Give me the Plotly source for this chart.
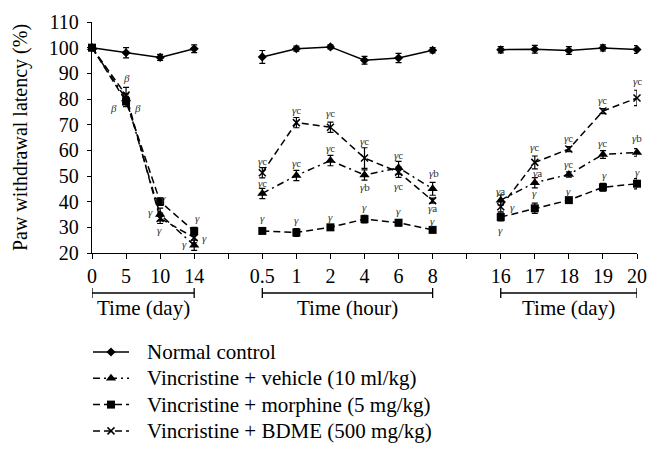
import plotly.graph_objects as go

# ---------------- data ----------------
days_a = ["0", "5", "10", "14"]
hours = ["0.5", "1", "2", "4", "6", "8"]
days_b = ["16", "17", "18", "19", "20"]

normal_a = [100, 98, 96.2, 99.6]
normal_h = [96.4, 99.6, 100.3, 95.1, 96.0, 99.0]
normal_b = [99.2, 99.4, 98.9, 99.9, 99.3]
normal_err_a = [0, 2.0, 1.2, 1.5]
normal_err_h = [2.5, 1.0, 0.8, 1.5, 1.8, 1.0]
normal_err_b = [1.2, 1.5, 1.5, 1.2, 1.5]

vehicle_a = [100, 80, 35, 23]
vehicle_h = [43.2, 50.2, 56.0, 50.4, 53.2, 45.0]
vehicle_b = [40.6, 47.4, 50.6, 58.4, 59.2]
vehicle_err_a = [0, 2.0, 2.5, 2.0]
vehicle_err_h = [2.0, 2.0, 2.0, 2.0, 2.5, 2.5]
vehicle_err_b = [2.0, 2.0, 1.0, 1.5, 1.5]

morphine_a = [100, 79, 40, 28.5]
morphine_h = [28.6, 28.0, 30.0, 33.2, 31.8, 29.0]
morphine_b = [34.0, 37.4, 40.6, 45.6, 47.0]
morphine_err_a = [0, 2.0, 1.5, 1.5]
morphine_err_h = [1.0, 1.5, 1.0, 1.5, 1.2, 0.8]
morphine_err_b = [1.5, 2.0, 1.0, 1.5, 2.0]

bdme_a = [100, 81.5, 33.5, 26]
bdme_h = [51.3, 70.8, 69.0, 57.0, 51.5, 40.4]
bdme_b = [38.0, 55.3, 60.5, 75.3, 80.4]
bdme_err_a = [0, 3.0, 2.0, 2.0]
bdme_err_h = [2.0, 2.0, 2.0, 4.0, 2.0, 1.0]
bdme_err_b = [2.0, 2.5, 1.0, 1.0, 3.0]

series_names = [
    "Normal control",
    "Vincristine + vehicle (10 ml/kg)",
    "Vincristine + morphine (5 mg/kg)",
    "Vincristine + BDME (500 mg/kg)",
]

panel_titles = ["Time (day)", "Time (hour)", "Time (day)"]

# significance marks: (panel index, category label, y value, text, x offset in category units)
marks = [
    (0, "5", 88.0, "<i>β</i>", 0.02), (0, "5", 76.4, "<i>β</i>", -0.38), (0, "5", 76.4, "<i>β</i>", 0.34),
    (0, "10", 41.4, "<i>γ</i>", 0.10), (0, "10", 36.0, "<i>γ</i>", -0.28), (0, "10", 29.0, "<i>γ</i>", -0.02),
    (0, "14", 33.6, "<i>γ</i>", 0.09), (0, "14", 26.0, "<i>γ</i>", 0.29), (0, "14", 23.4, "<i>γ</i>", -0.29),
    (1, "0.5", 56.0, "<i>γ</i>c", 0), (1, "0.5", 47.4, "<i>γ</i>c", 0), (1, "0.5", 33.5, "<i>γ</i>", 0),
    (1, "1", 75.9, "<i>γ</i>c", 0), (1, "1", 55.1, "<i>γ</i>c", 0), (1, "1", 32.8, "<i>γ</i>", 0),
    (1, "2", 74.7, "<i>γ</i>c", 0), (1, "2", 61.0, "<i>γ</i>c", 0), (1, "2", 33.9, "<i>γ</i>", 0),
    (1, "4", 63.6, "<i>γ</i>c", 0), (1, "4", 45.8, "<i>γ</i>b", 0), (1, "4", 38.0, "<i>γ</i>", 0),
    (1, "6", 58.0, "<i>γ</i>c", 0), (1, "6", 46.3, "<i>γ</i>c", 0), (1, "6", 36.5, "<i>γ</i>", 0),
    (1, "8", 51.0, "<i>γ</i>b", 0.03), (1, "8", 37.4, "<i>γ</i>a", 0), (1, "8", 32.6, "<i>γ</i>", 0),
    (2, "16", 44.2, "<i>γ</i>a", 0), (2, "16", 37.8, "<i>γ</i>", 0.34), (2, "16", 29.0, "<i>γ</i>", 0),
    (2, "17", 61.4, "<i>γ</i>c", 0), (2, "17", 51.0, "<i>γ</i>a", 0.07), (2, "17", 43.2, "<i>γ</i>", 0),
    (2, "18", 65.0, "<i>γ</i>c", 0), (2, "18", 54.6, "<i>γ</i>c", 0), (2, "18", 44.2, "<i>γ</i>", 0),
    (2, "19", 79.5, "<i>γ</i>c", 0), (2, "19", 62.9, "<i>γ</i>c", 0), (2, "19", 50.4, "<i>γ</i>", 0.05),
    (2, "20", 86.9, "<i>γ</i>c", 0), (2, "20", 64.9, "<i>γ</i>b", 0), (2, "20", 51.4, "<i>γ</i>", 0),
]

# ---------------- layout helpers ----------------
W, H = 660, 461
M_L, M_R, M_T, M_B = 92, 23, 22, 0
PLOT_H = H - M_T - M_B
PLOT_BOTTOM_PX = 253          # pixel row of the x axis line
LEGEND_TOP_PX = 330


def py2paper(py):
    return (H - M_B - py) / PLOT_H


panels = [days_a, hours, days_b]
# positions along a shared axis, with one empty slot between panels
ticktext = []
p = 0
panel_pos = []
for i, cats in enumerate(panels):
    cur = []
    for c in cats:
        cur.append(p)
        ticktext.append(c)
        p += 1
    panel_pos.append(cur)
    if i < len(panels) - 1:
        ticktext.append("")
        p += 1
tickvals = list(range(p))


def build(parts):
    xs, ys = [], []
    for k, vals in enumerate(parts):
        xs += panel_pos[k]
        ys += vals
        if k < len(parts) - 1:
            xs.append(panel_pos[k][-1] + 1)
            ys.append(None)
    return xs, ys


FONT = "Liberation Serif"
styles = [
    dict(dash="solid", symbol="diamond", size=7),
    dict(dash="7px,4px,2px,4px", symbol="triangle-up", size=9),
    dict(dash="7px,4px", symbol="square", size=8),
    dict(dash="7px,4px", symbol="x-thin", size=7),
]
data = [
    ((normal_a, normal_h, normal_b), (normal_err_a, normal_err_h, normal_err_b)),
    ((vehicle_a, vehicle_h, vehicle_b), (vehicle_err_a, vehicle_err_h, vehicle_err_b)),
    ((morphine_a, morphine_h, morphine_b), (morphine_err_a, morphine_err_h, morphine_err_b)),
    ((bdme_a, bdme_h, bdme_b), (bdme_err_a, bdme_err_h, bdme_err_b)),
]

fig = go.Figure()
annotations = []
# legend drawn on its own hidden pixel-unit axes
LEG_X0, LEG_X1, LEG_TXT = 93, 129, 145
LEG_ROW0, LEG_DY = 352, 26.3

for i, (name, st, (vals, errs)) in enumerate(zip(series_names, styles, data)):
    xs, ys = build(vals)
    _, es = build(errs)
    es = [e if e is not None else 0 for e in es]
    line = dict(color="black", width=1.5, dash=st["dash"])
    marker = dict(symbol=st["symbol"], size=st["size"], color="black",
                  line=dict(color="black", width=1.5 if st["symbol"] == "x-thin" else 0))
    fig.add_trace(go.Scatter(
        x=xs, y=ys, name=name, mode="lines+markers", line=line, marker=marker,
        error_y=dict(type="data", array=es, visible=True, color="black", thickness=1.2, width=3),
        connectgaps=False, cliponaxis=False, showlegend=False,
    ))
    ry = LEG_ROW0 + i * LEG_DY
    fig.add_trace(go.Scatter(x=[LEG_X0, LEG_X1], y=[ry, ry], mode="lines", line=line,
                             xaxis="x2", yaxis="y2", showlegend=False, hoverinfo="skip"))
    fig.add_trace(go.Scatter(x=[(LEG_X0 + LEG_X1) / 2], y=[ry], mode="markers", marker=marker,
                             xaxis="x2", yaxis="y2", showlegend=False, hoverinfo="skip"))
    annotations.append(dict(x=LEG_TXT, y=ry, xref="x2", yref="y2", text=name, showarrow=False,
                            xanchor="left", yanchor="middle",
                            font=dict(family=FONT, size=21, color="black")))

for k, cat, yv, txt, dx in marks:
    xpos = panel_pos[k][panels[k].index(cat)] + dx
    annotations.append(dict(x=xpos, y=yv, xref="x", yref="y", text=txt, showarrow=False,
                            font=dict(family=FONT, size=11, color="#333")))

shapes = []
BR_Y = py2paper(293)
CAP = 5 / PLOT_H
TITLE_Y = py2paper(308)
for k, cur in enumerate(panel_pos):
    x0, x1 = cur[0], cur[-1]
    shapes.append(dict(type="line", xref="x", yref="paper", x0=x0, x1=x1, y0=BR_Y, y1=BR_Y,
                       line=dict(color="black", width=1.3)))
    for xx in (x0, x1):
        shapes.append(dict(type="line", xref="x", yref="paper", x0=xx, x1=xx,
                           y0=BR_Y - CAP, y1=BR_Y + CAP, line=dict(color="black", width=1.3)))
    annotations.append(dict(x=(x0 + x1) / 2, y=TITLE_Y, xref="x", yref="paper",
                            text=panel_titles[k], showarrow=False, yanchor="middle",
                            font=dict(family=FONT, size=21, color="black")))

main_bottom = py2paper(PLOT_BOTTOM_PX)
leg_top = py2paper(LEGEND_TOP_PX)

fig.update_layout(
    width=W, height=H,
    margin=dict(l=M_L, r=M_R, t=M_T, b=M_B, autoexpand=False),
    paper_bgcolor="white", plot_bgcolor="white",
    font=dict(family=FONT, color="black"),
    showlegend=False,
    xaxis=dict(range=[0, p - 1], tickvals=tickvals, ticktext=ticktext, showline=True,
               linecolor="black", linewidth=1.3, ticks="outside", ticklen=5, tickcolor="black",
               showgrid=False, zeroline=False, tickfont=dict(family=FONT, size=20),
               anchor="y", domain=[0, 1], automargin=False),
    yaxis=dict(range=[20, 110], dtick=10, showline=True, linecolor="black", linewidth=1.3,
               ticks="outside", ticklen=4, tickcolor="black", showgrid=False, zeroline=False,
               tickfont=dict(family=FONT, size=20), ticklabelstandoff=4,
               domain=[main_bottom, 1], anchor="x", automargin=False,
               title=dict(text="Paw withdrawal latency (%)", font=dict(family=FONT, size=20),
                          standoff=15)),
    xaxis2=dict(domain=[0, 1], range=[M_L, W - M_R], visible=False, anchor="y2",
                fixedrange=True),
    yaxis2=dict(domain=[0, leg_top], range=[H - M_B, LEGEND_TOP_PX], visible=False,
                anchor="x2", fixedrange=True),
    annotations=annotations, shapes=shapes,
)

fig.write_html("out.html", config={"displayModeBar": False},
               post_script="document.body.style.margin='0';")
